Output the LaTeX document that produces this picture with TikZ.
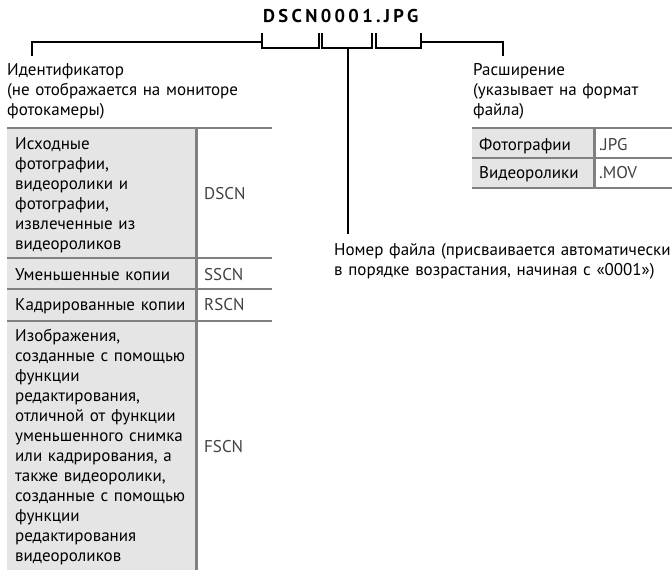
\documentclass[tikz,border=0pt]{standalone}
\usepackage{fontspec}
\setmainfont{PT Sans}
\newfontfamily\hdfont[LetterSpace=18]{PT Sans}
\usetikzlibrary{positioning}
\definecolor{cellgray}{RGB}{229,229,229}
\definecolor{rulegray}{RGB}{128,128,128}

\begin{document}
\begin{tikzpicture}[x=1pt,y=-1pt,
      txt/.style={anchor=base west, inner sep=0pt, align=left, text width=420pt, font=\fontsize{17}{20}\selectfont},
      code/.style={txt, text=black!75},
      head/.style={anchor=base west, inner sep=0pt, font=\hdfont\bfseries\fontsize{18.5}{20}\selectfont},
      conn/.style={draw=black, line width=2.2pt},
      rule/.style={draw=rulegray, line width=2.6pt}]
    \useasboundingbox (0,0) rectangle (672,570);
    \fill[cellgray] (7,128) rectangle (195,570);
    \fill[cellgray] (472,128) rectangle (593,188);
    \foreach \y in {128,258,289,321} \draw[rule] (7,\y) -- (272,\y);
    \draw[rule] (196.5,128) -- (196.5,570);
    \foreach \y in {128,158,188} \draw[rule] (472,\y) -- (672,\y);
    \draw[rule] (594.5,128) -- (594.5,188);

    \node[head] (hdr) at (263,22.7) {DSCN0001.JPG};
    \node[txt] (ident) at (7,75) {Идентификатор\\(не отображается на мониторе\\фотокамеры)};
    \node[txt] (ext) at (473,75) {Расширение\\(указывает на формат\\файла)};
    \node[txt] (num) at (334,255) {Номер файла (присваивается автоматически\\в порядке возрастания, начиная с «0001»)};

    \node[txt] (c1) at (15,149) {Исходные\\фотографии,\\видеоролики и\\фотографии,\\извлеченные из\\видеороликов};
    \node[code] (k1) at (204,199) {DSCN};
    \node[txt] (c2) at (15,280) {Уменьшенные копии};
    \node[code] (k2) at (204,280) {SSCN};
    \node[txt] (c3) at (15,310) {Кадрированные копии};
    \node[code] (k3) at (204,310) {RSCN};
    \node[txt] (c4) at (15,341) {Изображения,\\созданные с помощью\\функции\\редактирования,\\отличной от функции\\уменьшенного снимка\\или кадрирования, а\\также видеоролики,\\созданные с помощью\\функции\\редактирования\\видеороликов};
    \node[code] (k4) at (204,452) {FSCN};
    \node[txt] (e1) at (479,150) {Фотографии};
    \node[code] (j1) at (599,150) {.JPG};
    \node[txt] (e2) at (479,178) {Видеоролики};
    \node[code] (j2) at (599,178) {.MOV};

    \coordinate (idl) at (262,33);
    \coordinate (idr) at (319,33);
    \coordinate (nol) at (322,33);
    \coordinate (nor) at (372,33);
    \coordinate (exl) at (376,33);
    \coordinate (exr) at (421,33);
    \coordinate (nomid) at (348,48);
    \draw[conn] (idl) -- ++(0,15) -| (idr);
    \draw[conn] (nol) -- ++(0,15) -| (nor);
    \draw[conn] (exl) -- ++(0,15) -| (exr);
    \draw[conn, shorten >=6.5pt] ([yshift=-9pt]idl) -| ([xshift=25pt]ident.north west);
    \draw[conn, shorten >=6.5pt] ([yshift=-9pt]exr) -| ([xshift=30pt]ext.north west);
    \draw[conn, shorten >=8.5pt] (nomid) -- (nomid |- num.north);
  \end{tikzpicture}
\end{document}
